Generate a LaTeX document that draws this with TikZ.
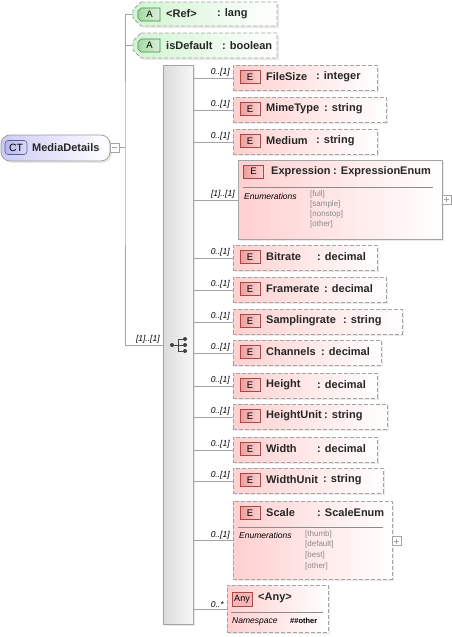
\documentclass[tikz,border=0pt]{standalone}
\usepackage{fontspec}
\setmainfont{Liberation Sans}
\usetikzlibrary{shadows}

\definecolor{epink}{HTML}{FFD0D0}
\definecolor{ebadge}{HTML}{F09C9C}
\definecolor{eborder}{HTML}{A84848}
\definecolor{agreen}{HTML}{D2F5D2}
\definecolor{abadge}{HTML}{A4DAA4}
\definecolor{aborder}{HTML}{4A864A}
\definecolor{ctblue}{HTML}{CCCCF6}
\definecolor{ctbadge}{HTML}{B6B6EC}
\definecolor{ctborder}{HTML}{5A5A9E}
\definecolor{lgray}{HTML}{A4A4A4}
\definecolor{enumgray}{HTML}{8A8A8A}

\tikzset{
    conn/.style={draw=lgray, line width=0.7pt},
    shade/.style={drop shadow={shadow xshift=2pt, shadow yshift=-2pt, fill=black!16}},
    elem/.style={draw=lgray, dash pattern=on 4pt off 2pt, line width=0.8pt,
        left color=epink, right color=white, shade, inner sep=0, anchor=north west},
    elemsolid/.style={elem, solid},
    ebox/.style={draw=eborder, line width=0.6pt, left color=ebadge, right color=ebadge!45,
        minimum width=20pt, minimum height=13pt, inner sep=0,
        font=\fontsize{9.5}{10}\selectfont},
    ename/.style={anchor=west, inner sep=0, text=black!85,
        font=\bfseries\fontsize{11}{13}\selectfont},
    occ/.style={anchor=south east, inner sep=1pt, xshift=-2pt,
        font=\itshape\fontsize{8.5}{9}\selectfont},
    enumtitle/.style={anchor=west, inner sep=0, font=\itshape\fontsize{8.5}{10}\selectfont},
    enumval/.style={anchor=west, inner sep=0, text=enumgray, font=\fontsize{8}{9}\selectfont},
    sepline/.style={draw=black!45, line width=0.6pt},
    attr/.style={draw=lgray, dash pattern=on 4pt off 2pt, line width=0.8pt,
        left color=agreen, right color=white, shade},
    abox/.style={draw=aborder, line width=0.6pt, left color=abadge, right color=abadge!40},
    plusbox/.style={draw=lgray, fill=white, minimum size=9pt, inner sep=0,
        path picture={\draw[lgray] ([xshift=2pt]path picture bounding box.west) -- ([xshift=-2pt]path picture bounding box.east)
            ([yshift=-2pt]path picture bounding box.north) -- ([yshift=2pt]path picture bounding box.south);}},
    minusbox/.style={draw=lgray, fill=white, minimum size=9pt, inner sep=0,
        path picture={\draw[lgray] ([xshift=2pt]path picture bounding box.west) -- ([xshift=-2pt]path picture bounding box.east);}},
    dot/.style={circle, fill=black!75, minimum size=4pt, inner sep=0},
}

\begin{document}
\begin{tikzpicture}[x=1pt, y=-1pt]
    \useasboundingbox (0,0) rectangle (452,637);

    % complex type
    \node[draw=black!40, line width=0.7pt, rounded corners=9pt, left color=ctblue, right color=white,
        shade, minimum width=109pt, minimum height=26pt] (ct) at (55.5,148) {};
    \node[draw=ctborder, line width=0.6pt, rounded corners=3pt, left color=ctbadge, right color=ctbadge!50,
        minimum width=22pt, minimum height=14pt, inner sep=0, font=\fontsize{10.5}{11}\selectfont] (ct-badge) at (16,147.5) {CT};
    \node[ename] (ct-name) at (32,147.5) {MediaDetails};
    \node[minusbox] (ct-minus) at (114.5,147.5) {};
    \coordinate (trunk) at (125,147.5);
    \draw[conn] (ct-minus.east) -- (trunk);

    % attributes
    \coordinate (ref) at (133,14);
    \coordinate (isdef) at (133,45.5);
    \draw[attr] (141,2) -- (277,2) -- (277,26) -- (141,26) -- (133,18) -- (133,10) -- cycle;
    \draw[attr] (141,33) -- (277,33) -- (277,58) -- (141,58) -- (133,50) -- (133,41) -- cycle;
    \draw[abox] (141,8) -- (160,8) -- (160,21) -- (141,21) -- (138,18) -- (138,11) -- cycle;
    \draw[abox] (141,39) -- (160,39) -- (160,52) -- (141,52) -- (138,49) -- (138,42) -- cycle;
    \node[inner sep=0, font=\fontsize{9.5}{10}\selectfont] (ref-a) at (149.5,14.5) {A};
    \node[inner sep=0, font=\fontsize{9.5}{10}\selectfont] (isdef-a) at (149.5,45.5) {A};
    \node[ename] (ref-n) at (166,14) {<Ref>};
    \node[ename] (ref-t) at (217,14) {: lang};
    \node[ename] (isdef-n) at (166,45.5) {isDefault};
    \node[ename] (isdef-t) at (222,45.5) {: boolean};

    % sequence
    \node[draw=lgray, line width=0.8pt, left color=black!14, right color=black!3, shade,
        minimum width=30pt, minimum height=559pt, inner sep=0, anchor=north west] (seq) at (163,65) {};
    \coordinate (seqin) at (163,345);
    \draw[conn] (ref) -| (trunk) |- (seqin) node[occ] {[1]..[1]};
    \draw[conn] (isdef) -- (trunk |- isdef);
    \node[dot] (sq-l) at (172,345) {};
    \node[dot] (sq-a) at (185,339) {};
    \node[dot] (sq-b) at (185,345) {};
    \node[dot] (sq-c) at (185,351) {};
    \draw[black!75, line width=0.8pt] (sq-l) -- (sq-b) (sq-a -| 178,0) -- (sq-c -| 178,0)
        (sq-a) -- (sq-a -| 178,0) (sq-c) -- (sq-c -| 178,0);

    % simple elements
    \foreach \nm/\t/\r/\c/\ty in {FileSize/65/377/316/integer, MimeType/97/386/324/string,
        Medium/129/377/316/string, Bitrate/245/377/317/decimal, Framerate/277/386/324/decimal,
        Samplingrate/309/402/343/string, Channels/340/381/321/decimal, Height/373/377/317/decimal,
        HeightUnit/404/387/324/string, Width/437/377/317/decimal, WidthUnit/468/383/323/string}
    {
        \node[elem, minimum width={\r-233}, minimum height=25pt] (\nm) at (233,\t) {};
        \node[ebox] (\nm-e) at (250,\t+12) {E};
        \node[ename] (\nm-n) at (266,\t+12) {\nm};
        \node[ename] (\nm-t) at (\c,\t+12) {: \ty};
        \draw[conn] (seq.east |- \nm.west) -- (\nm.west) node[occ] {0..[1]};
    }

    % Expression
    \node[elemsolid, minimum width=204pt, minimum height=79pt] (Expression) at (238,160) {};
    \node[ebox] (Expression-e) at (253.5,171.5) {E};
    \node[ename] (Expression-n) at (271,172) {Expression};
    \node[ename] (Expression-t) at (333,172) {: ExpressionEnum};
    \draw[sepline] (243,187) -- (433,187);
    \node[enumtitle] (Expression-enum) at (244,196) {Enumerations};
    \foreach \v [count=\k] in {full,sample,nonstop,other}
        \node[enumval] (Expression-\v) at (310,{183.7+\k*10.3}) {[\v]};
    \node[plusbox] (Expression-plus) at (446.5,199.5) {};
    \draw[conn] (seq.east |- Expression.west) -- (Expression.west) node[occ] {[1]..[1]};

    % Scale
    \node[elem, minimum width=159pt, minimum height=78pt] (Scale) at (233,501) {};
    \node[ebox] (Scale-e) at (250,513) {E};
    \node[ename] (Scale-n) at (266,513) {Scale};
    \node[ename] (Scale-t) at (317,513) {: ScaleEnum};
    \draw[sepline] (238,527) -- (383,527);
    \node[enumtitle] (Scale-enum) at (239,535.5) {Enumerations};
    \foreach \v [count=\k] in {thumb,default,best,other}
        \node[enumval] (Scale-\v) at (305,{523.7+\k*10.6}) {[\v]};
    \node[plusbox] (Scale-plus) at (396.5,541) {};
    \draw[conn] (seq.east |- Scale.west) -- (Scale.west) node[occ] {0..[1]};

    % any
    \node[elem, minimum width=101pt, minimum height=47pt] (any) at (227,585) {};
    \node[draw=eborder, line width=0.6pt, fill=ebadge!75, minimum width=20pt, minimum height=14pt,
        inner sep=0, font=\fontsize{9}{9}\selectfont] (any-badge) at (242,599) {Any};
    \node[ename] (any-n) at (258,597.5) {<Any>};
    \draw[sepline] (231,612) -- (323,612);
    \node[enumtitle] (any-ns) at (232,621.5) {Namespace};
    \node[anchor=west, inner sep=0, font=\bfseries\fontsize{7.5}{8}\selectfont] (any-val) at (290,620.5) {\#\#other};
    \draw[conn] (seq.east |- any.west) -- (any.west) node[occ] {0..*};
\end{tikzpicture}
\end{document}
